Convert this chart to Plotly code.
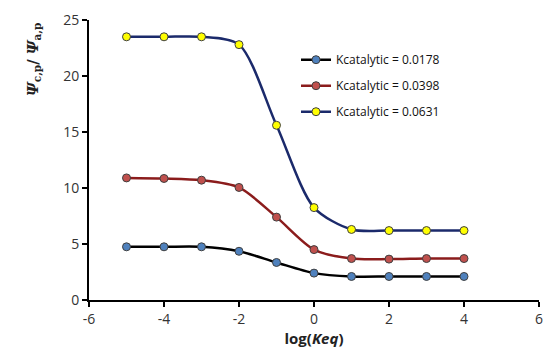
import plotly.graph_objects as go

log_keq = [-5, -4, -3, -2, -1, 0, 1, 2, 3, 4]
k_0178 = [4.75, 4.75, 4.75, 4.35, 3.35, 2.4, 2.1, 2.1, 2.1, 2.1]
k_0398 = [10.9, 10.85, 10.7, 10.05, 7.4, 4.5, 3.7, 3.65, 3.7, 3.7]
k_0631 = [23.5, 23.5, 23.5, 22.8, 15.6, 8.25, 6.3, 6.2, 6.2, 6.2]
names = ["Kcatalytic = 0.0178", "Kcatalytic = 0.0398", "Kcatalytic = 0.0631"]
x_ticks = [-6, -4, -2, 0, 2, 4, 6]
x_ticktext = ["-6", "-4", "-2", "0", "2", "4", "6"]
y_ticks = [0, 5, 10, 15, 20, 25]

series = [
    (k_0178, "#000000", "#4F81BD"),
    (k_0398, "#8B1C1C", "#C0504D"),
    (k_0631, "#1B2A6B", "#FFFF00"),
]

fig = go.Figure()
for i, ((vals, lc, mc), nm) in enumerate(zip(series, names)):
    fig.add_trace(go.Scatter(
        x=log_keq, y=vals, name=nm, mode="lines+markers", legendgroup=f"g{i}",
        line=dict(color=lc, width=2.5, shape="spline", smoothing=0.8),
        marker=dict(color=mc, size=8, line=dict(color="#404040", width=1)),
    ))

fig.add_annotation(
    text="<b><i>Ψ</i><sub>c,p</sub>/ <i>Ψ</i><sub>a,p</sub></b>",
    xref="paper", yref="paper", x=-0.125, y=0.86, xanchor="center", yanchor="middle",
    textangle=-90, showarrow=False,
    font=dict(size=15, family="DejaVu Serif, serif", color="#222"),
)

fig.update_layout(
    width=548, height=352,
    margin=dict(l=89, r=5, t=20, b=52),
    plot_bgcolor="white", paper_bgcolor="white",
    font=dict(family="Open Sans, Liberation Sans, sans-serif", size=14, color="#333"),
    showlegend=True,
    legend=dict(x=0.46, y=0.91, xanchor="left", yanchor="top",
                font=dict(size=12, color="#111"), bgcolor="rgba(0,0,0,0)",
                tracegroupgap=7, itemwidth=30),
    xaxis=dict(range=[-6, 6], tickvals=x_ticks, ticktext=x_ticktext, showgrid=False,
               zeroline=False, showline=True, linecolor="black", linewidth=2,
               ticks="outside", ticklen=5, tickcolor="black", tickwidth=2,
               title=dict(text="<b>log(<i>Keq</i>)</b>", font=dict(size=15, color="#222"), standoff=6)),
    yaxis=dict(range=[0, 25], tickvals=y_ticks, showgrid=False,
               zeroline=False, showline=True, linecolor="black", linewidth=2,
               ticks="outside", ticklen=5, tickcolor="black", tickwidth=2),
)

fig.write_html("out.html")
